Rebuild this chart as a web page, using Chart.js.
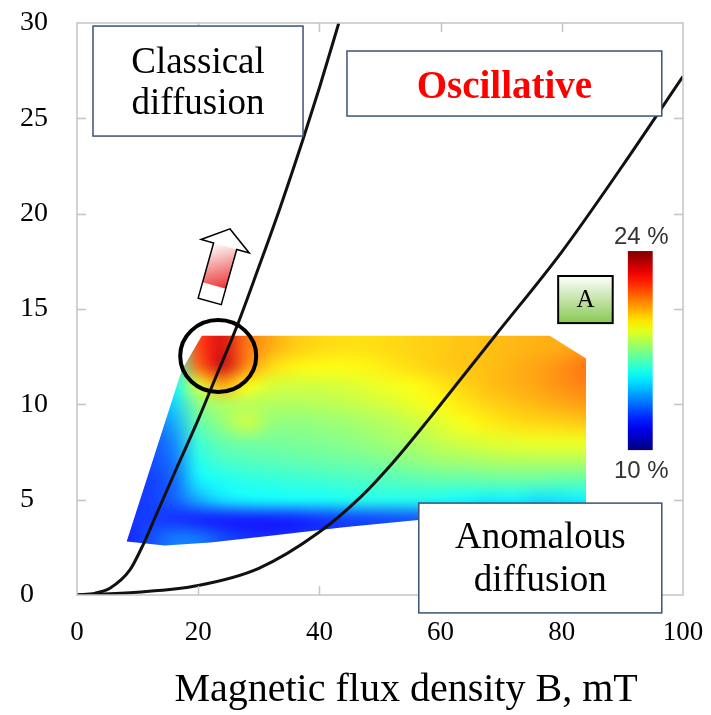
<!DOCTYPE html>
<html>
<head>
<meta charset="utf-8">
<script src="https://cdn.jsdelivr.net/npm/chart.js@4.4.1/dist/chart.umd.min.js"></script>
<style>
  html, body { margin: 0; padding: 0; background: #fff; }
  #wrap { width: 711px; height: 715px; }
</style>
</head>
<body>
<div id="wrap"><canvas id="phaseChart" width="711" height="715"></canvas></div>
<script>
// axis ticks
const xTicks = [0, 20, 40, 60, 80, 100];
const yTicks = [0, 5, 10, 15, 20, 25, 30];
const xTitle = 'Magnetic flux density B, mT';

// boundary curves (B in mT)
const classicalB = [0, 3, 5.5, 8.7, 11, 13.2, 16.5, 20, 23, 26.4, 30, 33.5, 37.3, 40, 43.2];
const classicalY = [0, 0.1, 0.37, 1.3, 2.7, 4.3, 6.7, 9.2, 11.5, 14.1, 17.2, 20.3, 23.9, 26.6, 30];
const anomalousB = [0, 10, 20, 30, 40, 47, 52, 58, 63, 69, 80, 90, 100];
const anomalousY = [0, 0.15, 0.5, 1.4, 3.3, 5.2, 6.9, 9.2, 11.2, 13.6, 18.0, 22.5, 27.2];

// measured map (%), rows top to bottom
const mapB = [8, 12, 16, 20, 24, 28, 32, 36, 40, 44, 48, 52, 56, 60, 64, 68, 72, 76, 80, 84];
const mapY = [13, 12, 11, 10, 9, 8, 7, 6, 5, 4, 3];
const mapValues = [
  [14.5, 14.5, 16, 21.5, 22.8, 20.8, 20, 19.5, 19.3, 19.2, 19.2, 19.3, 19.4, 19.5, 19.6, 19.7, 19.8, 19.9, 20, 20.2],
  [14, 14, 15.8, 21, 23, 20.5, 19.3, 18.9, 18.8, 18.8, 18.9, 19.1, 19.3, 19.5, 19.6, 19.7, 19.9, 20.1, 20.4, 20.8],
  [13.8, 14, 15.2, 18.2, 20, 18.8, 18.2, 18.1, 18.1, 18.2, 18.4, 18.6, 18.8, 19.1, 19.4, 19.7, 19.9, 20.1, 20.4, 20.6],
  [13.5, 13.8, 14.6, 17, 17.6, 17.7, 17.6, 17.6, 17.7, 17.8, 18, 18.2, 18.5, 18.8, 19.1, 19.4, 19.6, 19.8, 20, 20.2],
  [12.8, 13, 14, 16.4, 17.2, 18, 17.2, 17.1, 17.2, 17.3, 17.5, 17.7, 18, 18.3, 18.7, 19, 19.2, 19.3, 19.4, 19.5],
  [12.6, 12.7, 13.5, 15.9, 16.5, 16.7, 16.7, 16.8, 16.9, 17, 17.2, 17.4, 17.6, 17.9, 18.1, 18.3, 18.4, 18.5, 18.5, 18.5],
  [12.4, 12.6, 13.2, 15.5, 16, 16.2, 16.3, 16.4, 16.5, 16.6, 16.7, 16.9, 17.1, 17.3, 17.4, 17.5, 17.6, 17.6, 17.6, 17.6],
  [12.3, 12.4, 13, 15, 15.4, 15.6, 15.7, 15.8, 15.9, 16, 16.1, 16.2, 16.3, 16.4, 16.4, 16.5, 16.5, 16.5, 16.4, 16.4],
  [12.2, 12.4, 12.9, 14, 14.8, 15.1, 15.2, 15.3, 15.3, 15.4, 15.5, 15.5, 15.5, 15.4, 15.2, 15, 15.1, 14.8, 14.9, 15.1],
  [12.2, 12.4, 12.2, 12, 11.9, 11.9, 11.9, 12, 12.2, 12.4, 12.5, 12.6, 12.7, 12.9, 13.1, 13.2, 13.3, 13.4, 13.5, 13.6],
  [12, 12.6, 13.3, 13.2, 12.6, 12.2, 12.1, 12.2, 12.3, 12.5, 12.6, 12.8, 12.9, 13, 13.1, 13.1, 13.1, 13.1, 13.1, 13.1]
];
const colorRange = [10, 24];

// outline of the measured region
const regionB = [8.2, 14.5, 22, 33, 44, 55, 65, 84, 84, 78, 20.6, 17.3];
const regionY = [2.8, 2.6, 2.75, 3.15, 3.55, 3.9, 4.2, 4.6, 12.4, 13.6, 13.6, 11.8];

const serif = '"Liberation Serif", "Times New Roman", serif';
const sans = '"Liberation Sans", Arial, sans-serif';

function clamp(v) { return Math.max(0, Math.min(1, v)); }
function jet(t) {
  t = clamp(t);
  const r = clamp(1.5 - Math.abs(4 * t - 3));
  const g = clamp(1.5 - Math.abs(4 * t - 2));
  const b = clamp(1.5 - Math.abs(4 * t - 1));
  return `rgb(${Math.round(r * 255)},${Math.round(g * 255)},${Math.round(b * 255)})`;
}
function valueColor(v) {
  return jet((v - colorRange[0]) / (colorRange[1] - colorRange[0]));
}

// one pixel per cell (edges repeated), stretched with smoothing
function buildMapImage() {
  const cols = mapB.length, rows = mapY.length;
  const off = document.createElement('canvas');
  off.width = cols + 2;
  off.height = rows + 2;
  const octx = off.getContext('2d');
  for (let r = -1; r <= rows; r++) {
    for (let c = -1; c <= cols; c++) {
      const rr = Math.max(0, Math.min(rows - 1, r));
      const cc = Math.max(0, Math.min(cols - 1, c));
      octx.fillStyle = valueColor(mapValues[rr][cc]);
      octx.fillRect(c + 1, r + 1, 1, 1);
    }
  }
  return off;
}

const heatmapPlugin = {
  id: 'heatmap',
  beforeDatasetsDraw(chart) {
    const { ctx, scales: { x, y } } = chart;
    const img = buildMapImage();
    const stepB = mapB[1] - mapB[0];
    const stepY = mapY[0] - mapY[1];
    const x0 = x.getPixelForValue(mapB[0] - 1.5 * stepB);
    const x1 = x.getPixelForValue(mapB[mapB.length - 1] + 1.5 * stepB);
    const y0 = y.getPixelForValue(mapY[0] + 1.5 * stepY);
    const y1 = y.getPixelForValue(mapY[mapY.length - 1] - 1.5 * stepY);
    ctx.save();
    ctx.beginPath();
    regionB.forEach((b, i) => {
      const px = x.getPixelForValue(b), py = y.getPixelForValue(regionY[i]);
      if (i === 0) ctx.moveTo(px, py); else ctx.lineTo(px, py);
    });
    ctx.closePath();
    ctx.clip();
    ctx.imageSmoothingEnabled = true;
    ctx.imageSmoothingQuality = 'high';
    ctx.drawImage(img, x0, y0, x1 - x0, y1 - y0);
    ctx.fillStyle = 'rgba(255,255,255,0.08)';
    ctx.fillRect(0, 0, chart.width, chart.height);
    ctx.restore();
  }
};

function drawBox(ctx, x0, y0, x1, y1, stroke, lw, fill) {
  ctx.fillStyle = fill;
  ctx.fillRect(x0, y0, x1 - x0, y1 - y0);
  ctx.strokeStyle = stroke;
  ctx.lineWidth = lw;
  ctx.strokeRect(x0, y0, x1 - x0, y1 - y0);
}
function drawLines(ctx, cx, cy, lines, font, color, gap) {
  ctx.font = font;
  ctx.fillStyle = color;
  ctx.textAlign = 'center';
  ctx.textBaseline = 'middle';
  const start = cy - (lines.length - 1) * gap / 2;
  lines.forEach((t, i) => ctx.fillText(t, cx, start + i * gap));
}
function pathOf(ctx, pts) {
  ctx.beginPath();
  pts.forEach((p, i) => i ? ctx.lineTo(p[0], p[1]) : ctx.moveTo(p[0], p[1]));
  ctx.closePath();
}

const decorPlugin = {
  id: 'decor',
  afterDraw(chart) {
    const { ctx, chartArea: a, scales: { x, y } } = chart;
    const px = v => x.getPixelForValue(v);
    const py = v => y.getPixelForValue(v);
    ctx.save();

    // frame and inward ticks
    ctx.strokeStyle = '#c4c4c4';
    ctx.lineWidth = 1.5;
    ctx.strokeRect(a.left, a.top, a.right - a.left, a.bottom - a.top);
    ctx.beginPath();
    xTicks.slice(1, -1).forEach(v => {
      const p = Math.round(px(v)) + 0.5;
      ctx.moveTo(p, a.bottom); ctx.lineTo(p, a.bottom - 9);
      ctx.moveTo(p, a.top); ctx.lineTo(p, a.top + 9);
    });
    yTicks.slice(1, -1).forEach(v => {
      const p = Math.round(py(v)) + 0.5;
      ctx.moveTo(a.left, p); ctx.lineTo(a.left + 9, p);
      ctx.moveTo(a.right, p); ctx.lineTo(a.right - 9, p);
    });
    ctx.stroke();

    // axis title
    drawLines(ctx, px(54.3), 690, [xTitle], `40px ${serif}`, '#000', 0);

    // text boxes
    const boxBlue = '#3b5375';
    let x0 = px(2.64), x1 = px(37.3), y0 = py(29.84), y1 = py(24.07);
    drawBox(ctx, x0, y0, x1, y1, boxBlue, 1.5, '#fff');
    drawLines(ctx, (x0 + x1) / 2, (y0 + y1) / 2 + 3, ['Classical', 'diffusion'], `37px ${serif}`, '#000', 41);

    x0 = px(44.55); x1 = px(96.5); y0 = py(28.53); y1 = py(25.12);
    drawBox(ctx, x0, y0, x1, y1, boxBlue, 1.5, '#fff');
    drawLines(ctx, (x0 + x1) / 2, (y0 + y1) / 2 + 4, ['Oscillative'], `bold 39px ${serif}`, '#ff0000', 0);

    x0 = px(56.4); x1 = px(96.5); y0 = py(4.82); y1 = py(-0.94);
    drawBox(ctx, x0, y0, x1, y1, boxBlue, 1.5, '#fff');
    drawLines(ctx, (x0 + x1) / 2, (y0 + y1) / 2 + 2, ['Anomalous', 'diffusion'], `37px ${serif}`, '#000', 43);

    // "A" tag
    x0 = px(79.4); x1 = px(88.4); y0 = py(16.73); y1 = py(14.26);
    const gA = ctx.createLinearGradient(0, y0, 0, y1);
    gA.addColorStop(0, '#ffffff');
    gA.addColorStop(1, '#88c850');
    drawBox(ctx, x0, y0, x1, y1, '#000', 2, gA);
    drawLines(ctx, (x0 + x1) / 2, (y0 + y1) / 2 + 1, ['A'], `25px ${serif}`, '#000', 0);

    // colour bar
    x0 = px(90.9); x1 = px(95.0); y0 = py(18.04); y1 = py(7.6);
    const gC = ctx.createLinearGradient(0, y0, 0, y1);
    for (let i = 0; i <= 20; i++) gC.addColorStop(i / 20, jet(1 - i / 20));
    ctx.fillStyle = gC;
    ctx.fillRect(x0, y0, x1 - x0, y1 - y0);
    drawLines(ctx, (x0 + x1) / 2 + 1, y0 - 14, [colorRange[1] + ' %'], `24px ${sans}`, '#333', 0);
    drawLines(ctx, (x0 + x1) / 2 + 1, y1 + 21, [colorRange[0] + ' %'], `24px ${sans}`, '#333', 0);

    // circle around the hot spot
    ctx.strokeStyle = '#000';
    ctx.lineWidth = 4;
    ctx.beginPath();
    ctx.ellipse(px(23.3), py(12.53), 38, 36, 0, 0, Math.PI * 2);
    ctx.stroke();

    // arrow
    const bx = px(21.9), by = py(15.4), tx = px(25.25), ty = py(19.2);
    const len = Math.hypot(tx - bx, ty - by);
    const ux = (tx - bx) / len, uy = (ty - by) / len;
    const nx = -uy, ny = ux;
    const hb = len - 18, sw = 12, hw = 25;
    const P = (s, t) => [bx + ux * s + nx * t, by + uy * s + ny * t];
    const pts = [P(0, -sw), P(hb, -sw), P(hb, -hw), P(len, 0), P(hb, hw), P(hb, sw), P(0, sw)];
    pathOf(ctx, pts);
    ctx.fillStyle = '#fff';
    ctx.fill();
    const s0 = P(len * 0.22, sw), s1 = P(hb, -sw);
    const gR = ctx.createLinearGradient(s0[0], s0[1], s1[0], s1[1]);
    gR.addColorStop(0, '#ec3434');
    gR.addColorStop(0.75, '#f9cdcd');
    gR.addColorStop(1, '#ffffff');
    ctx.fillStyle = gR;
    pathOf(ctx, [P(len * 0.22, -sw), P(hb, -sw), P(hb, sw), P(len * 0.22, sw)]);
    ctx.fill();
    pathOf(ctx, pts);
    ctx.strokeStyle = '#000';
    ctx.lineWidth = 1.5;
    ctx.stroke();

    ctx.restore();
  }
};

const toPoints = (xs, ys) => xs.map((v, i) => ({ x: v, y: ys[i] }));

const config = {
  type: 'scatter',
  data: {
    datasets: [
      {
        label: 'Classical diffusion boundary',
        data: toPoints(classicalB, classicalY),
        showLine: true,
        borderColor: '#111',
        borderWidth: 3,
        pointRadius: 0,
        cubicInterpolationMode: 'monotone'
      },
      {
        label: 'Anomalous diffusion boundary',
        data: toPoints(anomalousB, anomalousY),
        showLine: true,
        borderColor: '#111',
        borderWidth: 3,
        pointRadius: 0,
        cubicInterpolationMode: 'monotone'
      }
    ]
  },
  options: {
    responsive: false,
    animation: false,
    devicePixelRatio: 1,
    layout: { padding: { left: 20, right: 28, top: 23, bottom: 0 } },
    plugins: {
      legend: { display: false },
      tooltip: { enabled: false }
    },
    scales: {
      x: {
        type: 'linear',
        min: 0,
        max: 100,
        afterBuildTicks: s => { s.ticks = xTicks.map(v => ({ value: v })); },
        afterFit: s => { s.height = 120; s.paddingLeft = 0; s.paddingRight = 0; },
        grid: { display: false, drawTicks: false },
        border: { display: false },
        ticks: {
          font: { family: serif, size: 27 },
          color: '#000',
          padding: 22,
          maxRotation: 0
        }
      },
      y: {
        type: 'linear',
        min: 0,
        max: 30,
        afterBuildTicks: s => { s.ticks = yTicks.map(v => ({ value: v })); },
        afterFit: s => { s.width = 57; s.paddingTop = 0; s.paddingBottom = 0; },
        grid: { display: false, drawTicks: false },
        border: { display: false },
        ticks: {
          font: { family: serif, size: 28 },
          color: '#000',
          crossAlign: 'far'
        }
      }
    }
  },
  plugins: [heatmapPlugin, decorPlugin]
};

new Chart(document.getElementById('phaseChart').getContext('2d'), config);
</script>
</body>
</html>
